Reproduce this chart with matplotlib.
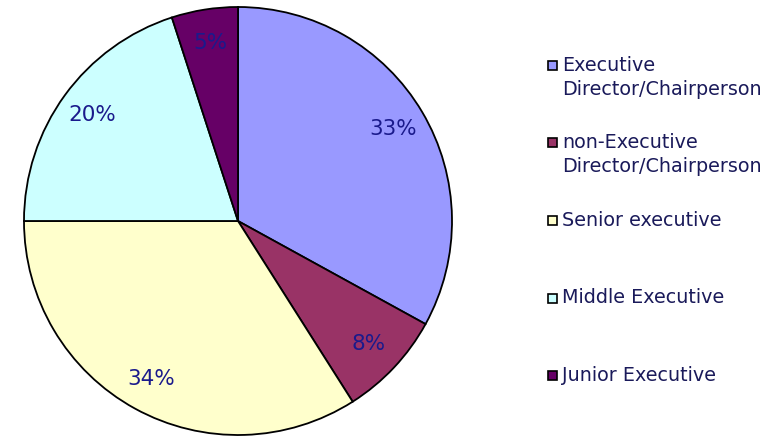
import matplotlib.pyplot as plt
from matplotlib.patches import Rectangle

# данные
labels = ["Executive\nDirector/Chairperson", "non-Executive\nDirector/Chairperson",
          "Senior executive", "Middle Executive", "Junior Executive"]
shares = [33, 8, 34, 20, 5]
colors = ["#9999FF", "#993366", "#FFFFCC", "#CCFFFF", "#660066"]

fig = plt.figure(figsize=(7.8, 4.36), dpi=100)
fig.patch.set_facecolor("white")

# круг: центр ~ (238, 221) px, радиус ~214 px
ax = fig.add_axes([24 / 780, 1 / 436, 428 / 780, 428 / 436])
wedges, texts, autotexts = ax.pie(
    shares, colors=colors, startangle=90, counterclock=False,
    autopct="%d%%", pctdistance=0.84, radius=1.0,
    wedgeprops=dict(edgecolor="black", linewidth=1.3),
    textprops=dict(color="#1a1a8c", fontsize=15.5, family="DejaVu Sans"))
ax.set_xlim(-1.0, 1.0)
ax.set_ylim(-1.0, 1.0)
ax.set_aspect("equal")
ax.axis("off")

# легенда вручную: квадратик у первой строки подписи
y0 = 436 - 65
step = 77.5
for i, (lab, col) in enumerate(zip(labels, colors)):
    y = y0 - i * step
    fig.patches.append(Rectangle((548 / 780, (y - 5) / 436), 9 / 780, 9 / 436,
                                 facecolor=col, edgecolor="black", linewidth=1.2,
                                 transform=fig.transFigure, figure=fig))
    first, *rest = lab.split("\n")
    fig.text(562 / 780, y / 436, first, va="center", ha="left",
             fontsize=13.8, color="#1a1a5a")
    for j, line in enumerate(rest):
        fig.text(562 / 780, (y - 24 * (j + 1)) / 436, line, va="center", ha="left",
                 fontsize=13.8, color="#1a1a5a")

plt.savefig("out.png", dpi=100)
